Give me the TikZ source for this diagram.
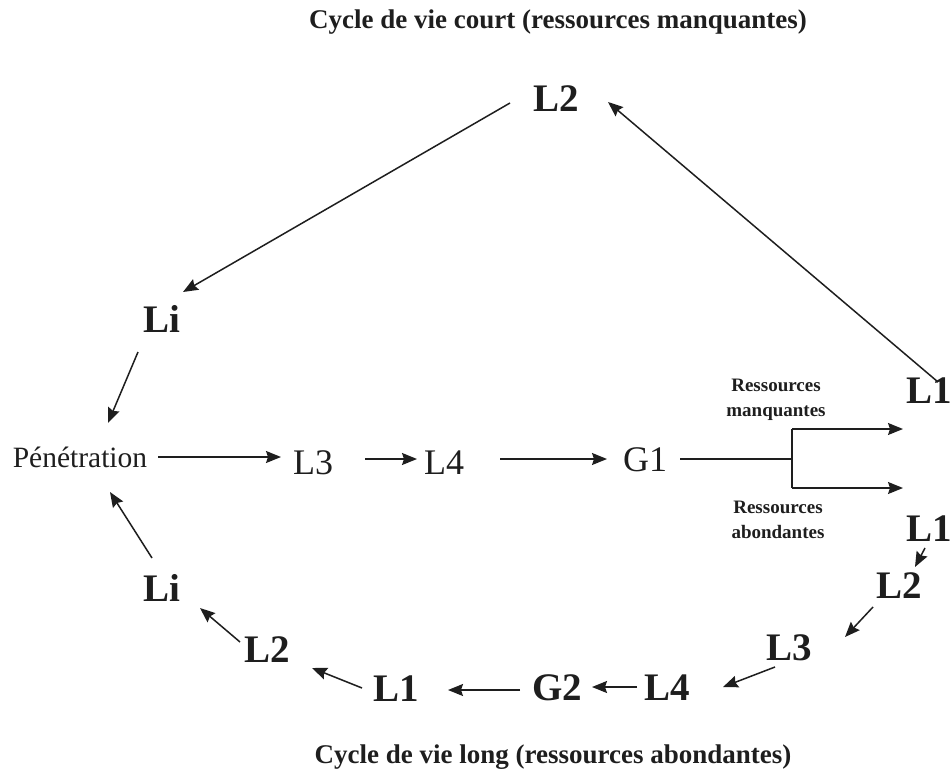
\documentclass[tikz,border=0pt]{standalone}
\usepackage{fontspec}
\setmainfont{Liberation Serif}
\usetikzlibrary{arrows.meta}
\definecolor{ink}{RGB}{30,30,30}
\tikzset{
  bigl/.style={inner sep=0pt, text=ink, font=\fontsize{39}{40}\selectfont\bfseries},
  midl/.style={inner sep=0pt, text=ink, font=\fontsize{36}{38}\selectfont},
  pentxt/.style={inner sep=0pt, text=ink, font=\fontsize{29.5}{32}\selectfont},
  titletxt/.style={inner sep=0pt, text=ink, font=\fontsize{27}{30}\selectfont\bfseries},
  smalltxt/.style={inner sep=0pt, text=ink, align=center, font=\fontsize{19}{25}\selectfont\bfseries},
  conn/.style={draw=ink, line width=1.5pt},
  arr/.style={conn, -{Stealth[length=15pt,width=12pt,inset=2pt]}}
}
\begin{document}
\begin{tikzpicture}[x=1pt,y=-1pt]
\useasboundingbox (0,0) rectangle (950,776);
% titles
\node[titletxt] (t1) at (558,22) {Cycle de vie court (ressources manquantes)};
\node[titletxt] (t2) at (553,757) {Cycle de vie long (ressources abondantes)};
% nodes
\node[bigl] (l2t) at (556,99) {L2};
\node[bigl] (li1) at (162,319) {Li};
\node[pentxt] (pen) at (80,457) {Pénétration};
\node[midl] (l3m) at (313,463) {L3};
\node[midl] (l4m) at (444,463) {L4};
\node[midl] (g1) at (645,460) {G1};
\node[bigl] (l1a) at (929,391) {L1};
\node[bigl] (l1b) at (929,529) {L1};
\node[bigl] (l2r) at (899,586) {L2};
\node[bigl] (l3r) at (789,648) {L3};
\node[bigl] (l4b) at (667,688) {L4};
\node[bigl] (g2) at (557,688) {G2};
\node[bigl] (l1c) at (396,689) {L1};
\node[bigl] (l2l) at (267,650) {L2};
\node[bigl] (li2) at (162,588) {Li};
\node[smalltxt] (rm) at (776,400) {Ressources\\manquantes};
\node[smalltxt] (ra) at (778,520) {Ressources\\abondantes};
% branch coordinates
\coordinate (br) at (792,459);
\coordinate (brT) at (792,429);
\coordinate (brB) at (792,488);
\coordinate (tipT) at (903,429);
\coordinate (tipB) at (903,488);
% short cycle
\draw[arr] ([shift={(9,-9)}]l1a.center) -- ([shift={(52,3)}]l2t.center);
\draw[arr] ([shift={(-46,4)}]l2t.center) -- ([shift={(21,-27)}]li1.center);
\draw[arr] ([shift={(-24,33)}]li1.center) -- ([shift={(28,-34)}]pen.center);
% main row
\draw[arr] ([shift={(78,0)}]pen.center) -- ([shift={(-32,-6)}]l3m.center);
\draw[arr] ([shift={(52,-4)}]l3m.center) -- ([shift={(-27,-4)}]l4m.center);
\draw[arr] ([shift={(56,-4)}]l4m.center) -- ([shift={(-38,-1)}]g1.center);
\draw[conn] ([shift={(35,-1)}]g1.center) -- (br);
\draw[conn] (brT) -- (brB);
\draw[arr] (brT) -- (tipT);
\draw[arr] (brB) -- (tipB);
% long cycle
\draw[arr] ([shift={(-4,19)}]l1b.center) -- ([shift={(16,-19)}]l2r.center);
\draw[arr] ([shift={(-26,21)}]l2r.center) -- ([shift={(56,-11)}]l3r.center);
\draw[arr] ([shift={(-14,19)}]l3r.center) -- ([shift={(56,-1)}]l4b.center);
\draw[arr] ([shift={(-30,-1)}]l4b.center) -- ([shift={(35,-1)}]g2.center);
\draw[arr] ([shift={(-37,2)}]g2.center) -- ([shift={(52,1)}]l1c.center);
\draw[arr] ([shift={(-34,-1)}]l1c.center) -- ([shift={(45,18)}]l2l.center);
\draw[arr] ([shift={(-27,-8)}]l2l.center) -- ([shift={(38,20)}]li2.center);
\draw[arr] ([shift={(-10,-30)}]li2.center) -- ([shift={(30,35)}]pen.center);
\end{tikzpicture}
\end{document}
